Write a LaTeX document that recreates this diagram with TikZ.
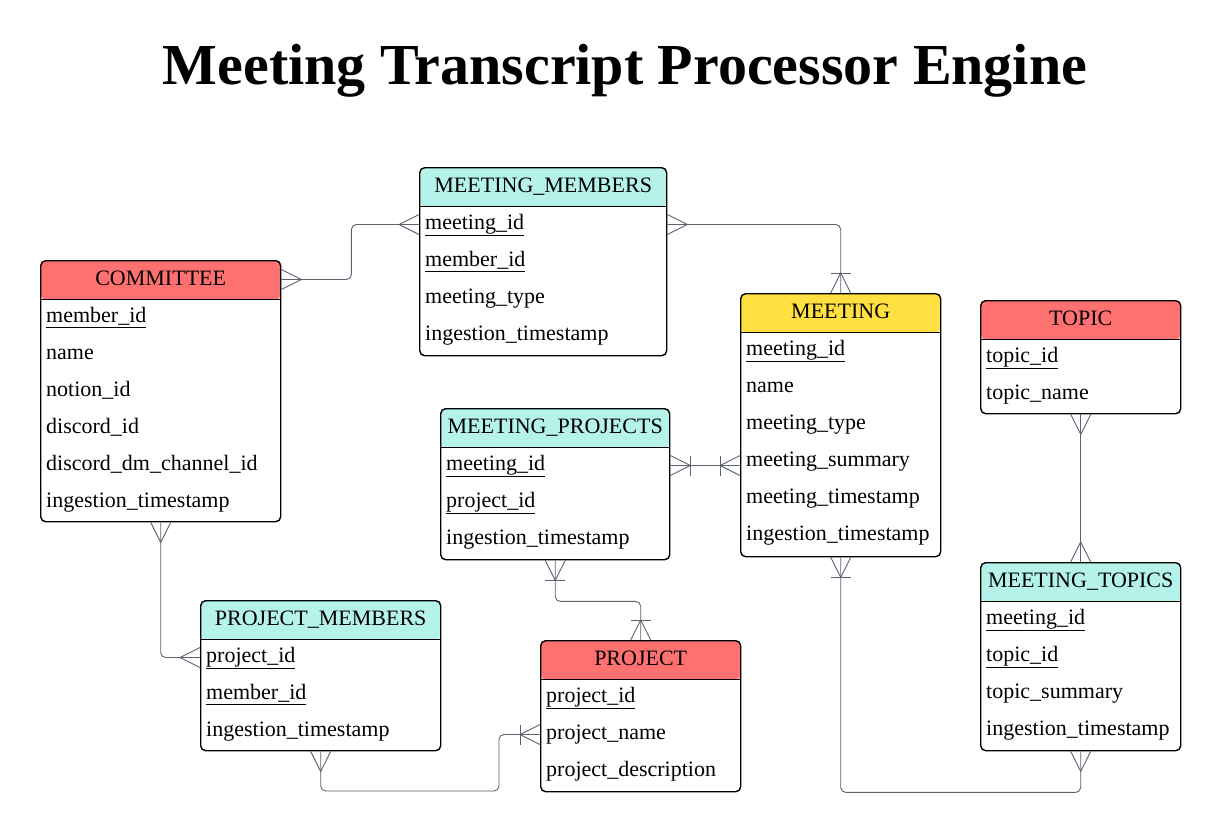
\documentclass[tikz,border=0pt]{standalone}
\usepackage{fontspec}
\setmainfont{Liberation Serif}
\usetikzlibrary{positioning,calc}

\definecolor{hcyan}{HTML}{B5F3EA}
\definecolor{hred}{HTML}{FF7070}
\definecolor{hyel}{HTML}{FFE040}
\definecolor{lnk}{HTML}{5C6170}

\newcommand{\pk}[1]{\underline{#1}}

\begin{document}
\begin{tikzpicture}[
  x=1pt, y=1pt,
  font=\fontsize{22}{26}\selectfont,
  tbl/.style={draw, line width=1.4pt, rounded corners=5pt, anchor=north west,
              inner sep=0pt, fill=white,
              path picture={
                \fill[#1] (path picture bounding box.north west)
                  rectangle ([yshift=-39pt]path picture bounding box.north east);
                \draw[line width=1.4pt] ([yshift=-39pt]path picture bounding box.north west)
                  -- ([yshift=-39pt]path picture bounding box.north east);}},
  hdr/.style={inner sep=0pt, text height=15pt, text depth=3pt},
  fld/.style={anchor=west, inner sep=0pt, text height=15pt, text depth=5pt},
  conn/.style={draw=lnk, line width=0.9pt, rounded corners=5pt},
  crowmany/.pic={\draw[conn, rounded corners=0pt] (0,-10) -- (20,0) -- (0,10);},
  crowone/.pic={\draw[conn, rounded corners=0pt] (0,-10) -- (20,0) -- (0,10);
                \draw[conn, rounded corners=0pt] (20,-10) -- (20,10);},
]
  \useasboundingbox (0,0) rectangle (1220,-832);

  \node[font=\fontsize{58}{60}\selectfont\bfseries, anchor=base] (title) at (625,-85)
       {Meeting Transcript Processor Engine};

  % entities
  \node[tbl=hred, minimum width=240pt, minimum height=261pt] (com) at (40,-260) {};
  \node[hdr] (comh) at ([yshift=-19.5pt]com.north) {COMMITTEE};
  \foreach \t [count=\i] in {\pk{member\_id}, name, notion\_id, discord\_id,
                             discord\_dm\_channel\_id, ingestion\_timestamp}
    \node[fld] (com-\i) at ([xshift=6pt, yshift={-20.5pt-37pt*\i}]com.north west) {\t};

  \node[tbl=hcyan, minimum width=247pt, minimum height=188pt] (mm) at (419,-167) {};
  \node[hdr] (mmh) at ([yshift=-19.5pt]mm.north) {MEETING\_MEMBERS};
  \foreach \t [count=\i] in {\pk{meeting\_id}, \pk{member\_id}, meeting\_type,
                             ingestion\_timestamp}
    \node[fld] (mm-\i) at ([xshift=6pt, yshift={-20.5pt-37pt*\i}]mm.north west) {\t};

  \node[tbl=hyel, minimum width=200pt, minimum height=263pt] (mtg) at (740,-293) {};
  \node[hdr] (mtgh) at ([yshift=-19.5pt]mtg.north) {MEETING};
  \foreach \t [count=\i] in {\pk{meeting\_id}, name, meeting\_type, meeting\_summary,
                             meeting\_timestamp, ingestion\_timestamp}
    \node[fld] (mtg-\i) at ([xshift=6pt, yshift={-20.5pt-37pt*\i}]mtg.north west) {\t};

  \node[tbl=hred, minimum width=200pt, minimum height=113pt] (top) at (980,-300) {};
  \node[hdr] (toph) at ([yshift=-19.5pt]top.north) {TOPIC};
  \foreach \t [count=\i] in {\pk{topic\_id}, topic\_name}
    \node[fld] (top-\i) at ([xshift=6pt, yshift={-20.5pt-37pt*\i}]top.north west) {\t};

  \node[tbl=hcyan, minimum width=229pt, minimum height=151pt] (mp) at (440,-408) {};
  \node[hdr] (mph) at ([yshift=-19.5pt]mp.north) {MEETING\_PROJECTS};
  \foreach \t [count=\i] in {\pk{meeting\_id}, \pk{project\_id}, ingestion\_timestamp}
    \node[fld] (mp-\i) at ([xshift=6pt, yshift={-20.5pt-37pt*\i}]mp.north west) {\t};

  \node[tbl=hcyan, minimum width=240pt, minimum height=150pt] (pm) at (200,-600) {};
  \node[hdr] (pmh) at ([yshift=-19.5pt]pm.north) {PROJECT\_MEMBERS};
  \foreach \t [count=\i] in {\pk{project\_id}, \pk{member\_id}, ingestion\_timestamp}
    \node[fld] (pm-\i) at ([xshift=6pt, yshift={-20.5pt-37pt*\i}]pm.north west) {\t};

  \node[tbl=hred, minimum width=200pt, minimum height=151pt] (prj) at (540,-640) {};
  \node[hdr] (prjh) at ([yshift=-19.5pt]prj.north) {PROJECT};
  \foreach \t [count=\i] in {\pk{project\_id}, project\_name, project\_description}
    \node[fld] (prj-\i) at ([xshift=6pt, yshift={-20.5pt-37pt*\i}]prj.north west) {\t};

  \node[tbl=hcyan, minimum width=200pt, minimum height=188pt] (mt) at (980,-562) {};
  \node[hdr] (mth) at ([yshift=-19.5pt]mt.north) {MEETING\_TOPICS};
  \foreach \t [count=\i] in {\pk{meeting\_id}, \pk{topic\_id}, topic\_summary,
                             ingestion\_timestamp}
    \node[fld] (mt-\i) at ([xshift=6pt, yshift={-20.5pt-37pt*\i}]mt.north west) {\t};

  % relations
  \draw[conn] (com.east |- comh) -- ++(70,0) |- (mm.west |- mm-1);
  \pic at (com.east |- comh) {crowmany};
  \pic[rotate=180] at (mm.west |- mm-1) {crowmany};

  \draw[conn] (mm.east |- mm-1) -| (mtg.north);
  \pic at (mm.east |- mm-1) {crowmany};
  \pic[rotate=90] at (mtg.north) {crowone};

  \draw[conn] (mp.east |- mp-1) -- (mtg.west |- mp-1);
  \pic at (mp.east |- mp-1) {crowone};
  \pic[rotate=180] at (mtg.west |- mp-1) {crowone};

  \draw[conn] (mp.south) -- ++(0,-41) -| (prj.north);
  \pic[rotate=-90] at (mp.south) {crowone};
  \pic[rotate=90] at (prj.north) {crowone};

  \draw[conn] (com.south) |- (pm.west |- pm-1);
  \pic[rotate=-90] at (com.south) {crowmany};
  \pic[rotate=180] at (pm.west |- pm-1) {crowmany};

  \coordinate (pmbend) at (499,-791);
  \draw[conn] (pm.south) |- (pmbend) |- (prj.west |- prj-2);
  \pic[rotate=-90] at (pm.south) {crowmany};
  \pic[rotate=180] at (prj.west |- prj-2) {crowone};

  \draw[conn] (mtg.south) |- ([yshift=-41pt]mt.south) -- (mt.south);
  \pic[rotate=-90] at (mtg.south) {crowone};
  \pic[rotate=-90] at (mt.south) {crowmany};

  \draw[conn] (top.south) -- (mt.north);
  \pic[rotate=-90] at (top.south) {crowmany};
  \pic[rotate=90] at (mt.north) {crowmany};
\end{tikzpicture}
\end{document}
